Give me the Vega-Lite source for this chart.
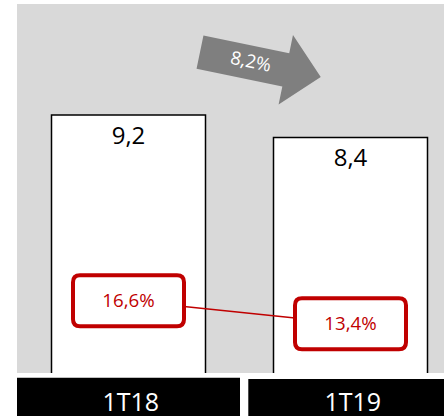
{
  "$schema": "https://vega.github.io/schema/vega-lite/v6.json",
  "width": 427,
  "height": 369,
  "autosize": {"type": "none"},
  "padding": {"left": 17, "top": 4, "right": 0, "bottom": 43},
  "background": "white",
  "config": {
    "view": {"fill": "#d9d9d9", "stroke": null},
    "locale": {"number": {"decimal": ",", "thousands": ".", "grouping": [3], "currency": ["", " €"]}},
    "font": "Open Sans"
  },
  "datasets": {
    "trimestres": [
      {"periodo": "1T18", "receita": 9.2, "margem": 0.166},
      {"periodo": "1T19", "receita": 8.4, "margem": 0.134}
    ],
    "variacao": [{"variacao": 0.082}]
  },
  "data": {"name": "trimestres"},
  "layer": [
    {
      "layer": [
        {
          "mark": {"type": "bar", "fill": "white", "stroke": "black", "strokeWidth": 1.5, "width": 154, "clip": true},
          "encoding": {
            "x": {"field": "periodo", "type": "nominal", "scale": {"domain": ["1T18", "1T19"], "range": [0.5, 444.5], "paddingInner": 0, "paddingOuter": 0}, "axis": null},
            "y": {"field": "receita", "type": "quantitative", "scale": {"domain": [0, 13.16], "nice": false, "zero": false}, "axis": null},
            "y2": {"datum": -0.5}
          }
        },
        {
          "mark": {"type": "text", "fontSize": 24, "dy": 22, "baseline": "middle", "color": "black"},
          "encoding": {
            "x": {"field": "periodo", "type": "nominal", "axis": null},
            "y": {"field": "receita", "type": "quantitative", "axis": null},
            "text": {"field": "receita", "type": "quantitative", "format": ".1f"}
          }
        },
        {
          "transform": [{"filter": "datum.periodo === '1T18'"}],
          "mark": {"type": "bar", "fill": "black", "width": 223},
          "encoding": {
            "x": {"field": "periodo", "type": "nominal", "axis": null},
            "y": {"datum": -0.17, "axis": null},
            "y2": {"datum": -1.8}
          }
        },
        {
          "transform": [{"filter": "datum.periodo === '1T19'"}],
          "mark": {"type": "bar", "fill": "black", "width": 223, "xOffset": 9.3},
          "encoding": {
            "x": {"field": "periodo", "type": "nominal", "axis": null},
            "y": {"datum": -0.21, "axis": null},
            "y2": {"datum": -1.8}
          }
        },
        {
          "mark": {"type": "text", "fontSize": 25, "baseline": "middle", "color": "white"},
          "encoding": {
            "x": {"field": "periodo", "type": "nominal", "bandPosition": 0.51, "axis": null},
            "y": {"datum": -1.07, "axis": null},
            "text": {"field": "periodo", "type": "nominal"}
          }
        },
        {
          "data": {"name": "variacao"},
          "mark": {"type": "point", "shape": "M-1,-0.276L0.421,-0.276L0.421,-0.576L1,0L0.421,0.576L0.421,0.276L-1,0.276Z", "size": 15203, "angle": 11.7, "filled": true, "fill": "#7f7f7f", "strokeWidth": 0, "opacity": 1},
          "encoding": {
            "x": {"datum": "1T19", "bandPosition": 0.094, "axis": null},
            "y": {"datum": 11.0, "axis": null}
          }
        },
        {
          "data": {"name": "variacao"},
          "mark": {"type": "text", "fontSize": 18.4, "angle": 11.7, "baseline": "middle", "color": "white"},
          "encoding": {
            "x": {"datum": "1T19", "bandPosition": 0.051, "axis": null},
            "y": {"datum": 11.1, "axis": null},
            "text": {"field": "variacao", "type": "quantitative", "format": ".1%"}
          }
        }
      ]
    },
    {
      "layer": [
        {
          "mark": {"type": "line", "color": "#c00000", "strokeWidth": 1.5},
          "encoding": {
            "x": {"field": "periodo", "type": "nominal", "axis": null},
            "y": {"field": "margem", "type": "quantitative", "scale": {"domain": [0.0655, 0.579], "nice": false, "zero": false}, "axis": null}
          }
        },
        {
          "mark": {"type": "point", "shape": "M-0.874,-0.459L0.874,-0.459Q1,-0.459 1,-0.333L1,0.333Q1,0.459 0.874,0.459L-0.874,0.459Q-1,0.459 -1,0.333L-1,-0.333Q-1,-0.459 -0.874,-0.459Z", "size": 12321, "filled": true, "fill": "white", "stroke": "#c00000", "strokeWidth": 4, "opacity": 1},
          "encoding": {
            "x": {"field": "periodo", "type": "nominal", "axis": null},
            "y": {"field": "margem", "type": "quantitative", "axis": null}
          }
        },
        {
          "mark": {"type": "text", "fontSize": 18.7, "baseline": "middle", "color": "#c00000"},
          "encoding": {
            "x": {"field": "periodo", "type": "nominal", "axis": null},
            "y": {"field": "margem", "type": "quantitative", "axis": null},
            "text": {"field": "margem", "type": "quantitative", "format": ".1%"}
          }
        }
      ]
    }
  ],
  "resolve": {"scale": {"y": "independent"}}
}
